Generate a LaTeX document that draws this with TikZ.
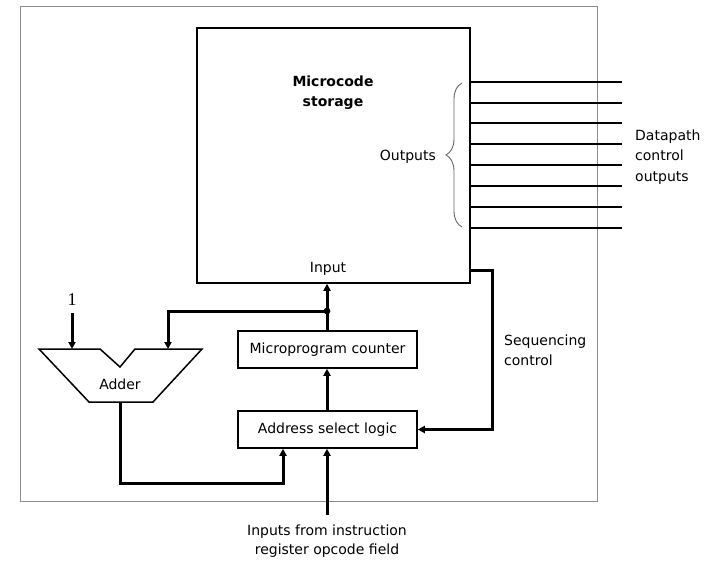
\documentclass[tikz,border=0pt]{standalone}
\usepackage{fontspec}
\setmainfont{DejaVu Sans}
\newfontfamily\serifone{Liberation Serif}
\usetikzlibrary{arrows.meta,decorations.pathreplacing}
\begin{document}
\begin{tikzpicture}[x=1pt,y=-1pt,
  box/.style={draw,line width=1.5pt,inner sep=0pt},
  lbl/.style={font=\fontsize{14}{19.5}\selectfont,inner sep=0pt},
  conn/.style={line width=3pt,-{Triangle[length=7pt,width=7pt]}},
  outline/.style={line width=2.2pt},
  frame/.style={draw=black!45,line width=1pt}]
\useasboundingbox (0,0) rectangle (707,567);
% outer frame
\draw[frame] (20,7) rectangle (597,501);
% boxes
\node[box,minimum width=273pt,minimum height=255pt] (store) at (333.5,155.5) {};
\node[lbl,font=\bfseries\fontsize{14}{19.5}\selectfont,align=center] (storetxt) at (333,92.5) {Microcode\\storage};
\node[lbl] (inputtxt) at (328,269) {Input};
\node[box,minimum width=179pt,minimum height=37pt,lbl] (mpc) at (327.5,349.5) {Microprogram counter};
\node[box,minimum width=179pt,minimum height=37pt,lbl] (asl) at (327.5,429.5) {Address select logic};
% adder
\draw[line width=1.5pt] (39,349) -- (100,349) -- (120,367) -- (135,349) -- (202,349) -- (153,402) -- (89,402) -- cycle;
\node[lbl] (adder) at (120,384) {Adder};
\coordinate (ain1) at (72,349);
\coordinate (ain2) at (168,349);
\coordinate (aout) at (120,402);
\node[font=\serifone\fontsize{18}{18}\selectfont,inner sep=0pt] (one) at (72,300) {1};
% outputs
\foreach \yy in {82,103,123,144,165,186,207,228}{
  \draw[outline] (store.east |- 0,\yy) -- (622,\yy);
}
\draw[black!60,line width=0.9pt,decorate,decoration={brace,amplitude=16pt}] (462,227) -- (462,83);
\node[lbl,anchor=east] (outtxt) at (436,157) {Outputs};
\node[lbl,anchor=west,align=left,font=\fontsize{14}{20.5}\selectfont] (dptxt) at (635,157) {Datapath\\control\\outputs};
% connectors
\coordinate (j) at (327,311);
\draw[conn] (mpc.north -| j) -- (j) -- (j |- store.south);
\draw[conn] (j) -| (ain2);
\fill (j) circle (3.4pt);
\draw[conn] (one.south |- 0,313) -- (ain1);
\draw[conn] (asl.north -| j) -- (mpc.south -| j);
\coordinate (c) at (283,483);
\draw[conn] (aout) |- (c) -- (c |- asl.south);
\node[lbl,align=center] (inp) at (327,541) {Inputs from instruction\\register opcode field};
\draw[conn] (327,515) -- (asl.south -| 327,0);
\coordinate (s) at (492,270);
\draw[conn] (store.east |- s) -- (s) |- (asl.east);
\node[lbl,anchor=west,align=left] (seqtxt) at (504,350.5) {Sequencing\\control};
\end{tikzpicture}
\end{document}
